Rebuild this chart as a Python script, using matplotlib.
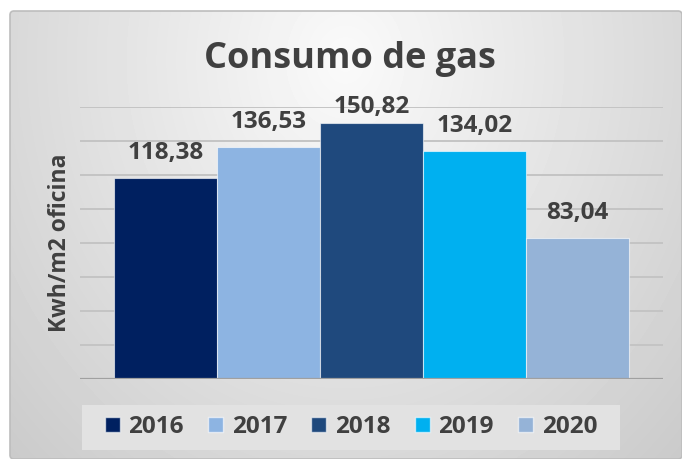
import numpy as np
import matplotlib
matplotlib.use("Agg")
import matplotlib.pyplot as plt
from matplotlib.patches import Patch, Rectangle, FancyBboxPatch

plt.rcParams['font.family'] = ['Open Sans', 'DejaVu Sans']

years = ['2016', '2017', '2018', '2019', '2020']
consumo = [118.38, 136.53, 150.82, 134.02, 83.04]
colores = ['#002060', '#8DB4E2', '#1F497D', '#00B0F0', '#95B3D7']
texto = '#404040'

W, H = 682, 459
fig = plt.figure(figsize=(W / 100, H / 100), dpi=100)
fig.patch.set_facecolor('white')

# card background with a soft radial gradient
bg = fig.add_axes([0, 0, 1, 1], zorder=-1)
bg.set_xlim(0, W)
bg.set_ylim(H, 0)
bg.axis('off')
yy, xx = np.mgrid[0:H, 0:W]
r = np.sqrt(((xx - 345) / 340.0) ** 2 + ((yy - 60) / 400.0) ** 2)
val = np.clip(250 - 34 * r, 195, 250) / 255.0
img = bg.imshow(val, cmap='gray', vmin=0, vmax=1, extent=(0, W, H, 0),
                interpolation='bilinear')
card = FancyBboxPatch((10, 11), W - 10, H - 11, boxstyle='round,pad=0,rounding_size=4',
                      facecolor='none', edgecolor='#bdbdbd', linewidth=1.2)
bg.add_patch(card)
img.set_clip_path(card)

# main plot
ax = fig.add_axes([80 / W, 80 / H, 583 / W, 272 / H])
ax.set_facecolor('none')
x = np.arange(len(years))
ax.bar(x, consumo, width=1.0, color=colores, edgecolor=(1, 1, 1, 0.6),
       linewidth=0.8, zorder=3)
ax.set_xlim(-0.83, 4.83)
ax.set_ylim(0, 160)
ax.set_yticks(range(0, 161, 20))
ax.set_xticks([])
ax.tick_params(axis='y', length=0, labelleft=False)
ax.grid(axis='y', color='#c4c4c4', linewidth=1.4, zorder=0)
ax.axhline(0, color='#a0a0a0', linewidth=1.6, zorder=4)
for s in ax.spines.values():
    s.set_visible(False)

for i, v in enumerate(consumo):
    ax.text(i, min(v + 11, 156.5), f"{v:.2f}".replace('.', ','),
            ha='center', va='baseline', fontsize=17.5, fontweight='bold',
            color=texto, zorder=5)

ax.set_ylabel('Kwh/m2 oficina', fontsize=16.5, fontweight='bold', color=texto,
              labelpad=6)

fig.text(350 / W, 1 - 68 / H, 'Consumo de gas', ha='center', va='baseline',
         fontsize=26, fontweight='bold', color=texto)

# legend
fig.patches.append(Rectangle((82 / W, 9 / H), 538 / W, 45 / H,
                             transform=fig.transFigure, facecolor='#e2e2e2',
                             edgecolor='none', zorder=0))
handles = [Patch(facecolor=c, edgecolor=(1, 1, 1, 0.6)) for c in colores]
leg = fig.legend(handles, years, loc='center', ncol=5, frameon=False,
                 bbox_to_anchor=(351 / W, 1 - 427 / H),
                 bbox_transform=fig.transFigure,
                 prop={'size': 17.5, 'weight': 'bold'},
                 handlelength=0.62, handleheight=0.62, handletextpad=0.35,
                 columnspacing=1.0)
for t in leg.get_texts():
    t.set_color(texto)

fig.savefig('out.png', dpi=100)
